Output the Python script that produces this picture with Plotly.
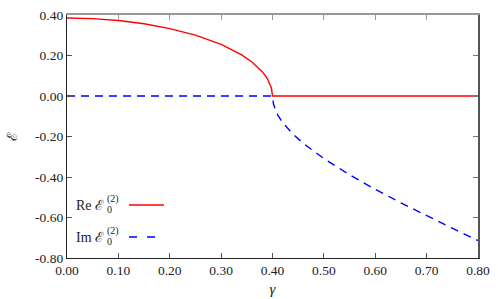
import plotly.graph_objects as go

# Data
gamma_re = [0.0, 0.05, 0.10, 0.15, 0.20, 0.25, 0.30, 0.32, 0.34, 0.36, 0.37, 0.38, 0.39, 0.395, 0.398, 0.40, 0.80]
re_vals = [0.385, 0.382, 0.373, 0.357, 0.333, 0.301, 0.255, 0.231, 0.203, 0.168, 0.146, 0.120, 0.086, 0.061, 0.038, 0.0, 0.0]

gamma_im = [0.0, 0.40, 0.402, 0.405, 0.41, 0.42, 0.44, 0.46, 0.48, 0.50, 0.55, 0.60, 0.65, 0.70, 0.75, 0.80]
im_vals = [0.0, 0.0, -0.041, -0.065, -0.093, -0.132, -0.189, -0.234, -0.273, -0.309, -0.389, -0.461, -0.528, -0.592, -0.653, -0.714]

x_ticks = [0.0, 0.1, 0.2, 0.3, 0.4, 0.5, 0.6, 0.7, 0.8]
x_labels = ["0.00", "0.10", "0.20", "0.30", "0.40", "0.50", "0.60", "0.70", "0.80"]
y_ticks = [-0.8, -0.6, -0.4, -0.2, 0.0, 0.2, 0.4]
y_labels = ["-0.80", "-0.60", "-0.40", "-0.20", "0.00", "0.20", "0.40"]

FONT = "Liberation Serif"

fig = go.Figure()
fig.add_trace(go.Scatter(x=gamma_re, y=re_vals, mode="lines",
                         line=dict(color="#ff0000", width=1.4), showlegend=False))
fig.add_trace(go.Scatter(x=gamma_im, y=im_vals, mode="lines",
                         line=dict(color="#0000ff", width=1.4, dash="8px,6px"), showlegend=False))
# invisible trace to anchor the mirrored top/right axes
fig.add_trace(go.Scatter(x=[0, 0.8], y=[-0.8, 0.4], xaxis="x2", yaxis="y2",
                         mode="lines", line=dict(width=0), hoverinfo="skip", showlegend=False))

fig.update_layout(
    width=498, height=299,
    margin=dict(l=67, r=20, t=15, b=41, autoexpand=False),
    paper_bgcolor="white", plot_bgcolor="white",
    font=dict(family=FONT, size=13.5, color="#222"),
    xaxis=dict(range=[0, 0.8], tickvals=x_ticks, ticktext=x_labels, automargin=False,
               showgrid=False, zeroline=False, showline=True, linecolor="#222", linewidth=1.2,
               ticks="inside", ticklen=5, tickcolor="#555",
               title=dict(text="<i>γ</i>", font=dict(size=15), standoff=6)),
    yaxis=dict(range=[-0.8, 0.4], tickvals=y_ticks, ticktext=y_labels, automargin=False,
               showgrid=False, zeroline=False, showline=True, linecolor="#222", linewidth=1.2,
               ticks="inside", ticklen=5, tickcolor="#555",
               title=dict(text="ℰ", font=dict(size=14), standoff=14)),
    xaxis2=dict(range=[0, 0.8], overlaying="x", side="top", tickvals=x_ticks, automargin=False,
                showticklabels=False, showgrid=False, zeroline=False, showline=True,
                linecolor="#999", linewidth=2, ticks="inside", ticklen=5, tickcolor="#999"),
    yaxis2=dict(range=[-0.8, 0.4], overlaying="y", side="right", tickvals=y_ticks, automargin=False,
                showticklabels=False, showgrid=False, zeroline=False, showline=True,
                linecolor="#555", linewidth=1.5, ticks="inside", ticklen=5, tickcolor="#777"),
)

# custom legend (text on the left, line sample on the right, stacked sub/superscripts)
def px_x(px):
    return (px - 67) / 411.0

def px_y(py):
    return (258 - py) / 243.0

legend_rows = [("Re", 205, "#ff0000", "solid", 164), ("Im", 237, "#0000ff", "8px,10px", 156)]
for name, cy, color, dash, xend in legend_rows:
    fig.add_annotation(x=px_x(106), y=px_y(cy), xref="paper", yref="paper",
                       text=name + " ℰ", showarrow=False, xanchor="right", yanchor="middle",
                       font=dict(family=FONT, size=14, color="#222"))
    fig.add_annotation(x=px_x(104.5), y=px_y(cy - 6), xref="paper", yref="paper",
                       text="(2)", showarrow=False, xanchor="left", yanchor="middle",
                       font=dict(family=FONT, size=10, color="#222"))
    fig.add_annotation(x=px_x(104.5), y=px_y(cy + 4), xref="paper", yref="paper",
                       text="0", showarrow=False, xanchor="left", yanchor="middle",
                       font=dict(family=FONT, size=10, color="#222"))
    fig.add_shape(type="line", xref="paper", yref="paper",
                  x0=px_x(129), x1=px_x(xend), y0=px_y(cy), y1=px_y(cy),
                  line=dict(color=color, width=1.4, dash=dash))

fig.write_html("out.html", config={"displayModeBar": False},
               post_script="document.body.style.margin='0';document.body.style.overflow='hidden';")
